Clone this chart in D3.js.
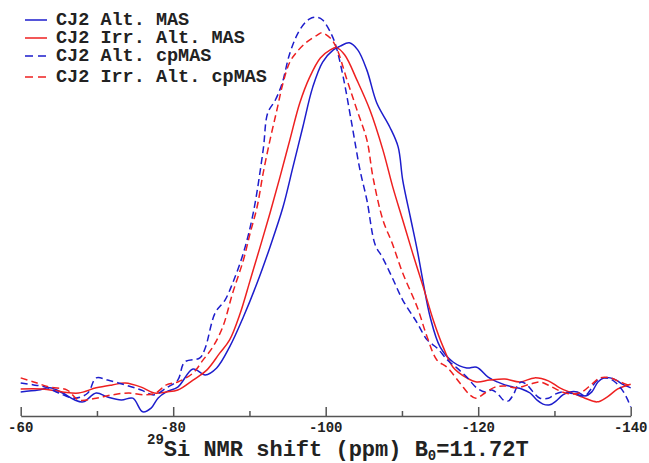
<!DOCTYPE html>
<html>
<head>
<meta charset="utf-8">
<script src="https://cdn.jsdelivr.net/npm/d3@7"></script>
<style>
  body { margin: 0; background: #fff; }
  svg text { font-family: "Courier New", "Liberation Mono", monospace; font-weight: bold; }
</style>
</head>
<body>
<div id="chart"></div>
<script>
// ppm / normalized intensity (%)
const alt_mas = [
  [-60.0,-1.6],[-62.3,-1.1],[-63.8,-0.5],[-65.5,-1.9],[-67.1,-3.8],[-68.2,-4.3],[-69.9,-1.9],
  [-71.4,-3.0],[-73.2,-3.8],[-74.7,-3.3],[-76.0,-7.0],[-77.1,-6.0],[-78.0,-3.3],[-79.1,-1.6],
  [-80.6,-0.3],[-82.6,4.6],[-84.2,3.0],[-85.7,4.9],[-87.4,10.6],[-89.2,18.7],[-91.0,27.9],
  [-92.7,37.7],[-94.4,48.5],[-95.7,59.3],[-97.0,70.2],[-98.3,81.0],[-99.6,87.8],[-101.0,91.1],
  [-101.9,92.1],[-103.1,93.0],[-104.2,91.1],[-105.4,85.6],[-106.7,76.7],[-108.4,70.2],
  [-109.5,64.8],[-110.1,55.8],[-111.1,45.8],[-112.0,36.9],[-112.8,27.9],[-113.7,18.7],
  [-115.0,10.6],[-116.7,6.5],[-118.5,4.9],[-119.8,5.1],[-121.3,2.4],[-122.5,1.1],[-123.5,0.3],
  [-124.6,-0.3],[-125.7,-0.8],[-126.8,-1.9],[-127.7,-3.8],[-128.5,-4.9],[-129.4,-5.1],
  [-130.2,-4.1],[-131.1,-2.4],[-132.0,-1.6],[-133.0,-1.6],[-134.0,-2.7],[-134.9,-1.6],
  [-135.7,1.1],[-136.5,2.2],[-137.3,2.2],[-138.1,1.6],[-138.9,0.5],[-140.0,-0.5]
]
const irr_alt_mas = [
  [-60.0,-0.8],[-62.8,-0.8],[-65.5,-1.6],[-67.6,-1.9],[-69.9,-0.5],[-72.0,0.3],[-73.7,0.8],
  [-75.8,-0.3],[-77.5,-1.9],[-79.1,-1.6],[-80.6,-1.1],[-82.6,1.6],[-84.4,4.3],[-86.1,8.9],
  [-87.4,12.5],[-88.8,19.8],[-90.1,28.7],[-91.4,37.7],[-92.7,46.9],[-94.0,56.6],[-95.3,66.7],
  [-96.6,76.7],[-97.9,83.7],[-99.3,88.9],[-100.6,91.1],[-101.4,91.7],[-102.5,89.7],
  [-104.1,82.9],[-105.8,74.8],[-107.5,64.0],[-108.8,53.9],[-110.1,45.0],[-111.4,36.0],
  [-112.8,26.8],[-114.1,17.9],[-115.4,10.6],[-116.7,5.1],[-118.5,2.2],[-119.8,1.1],
  [-121.5,1.6],[-123.5,1.9],[-125.5,1.1],[-127.4,2.2],[-129.2,1.4],[-130.7,-0.5],
  [-132.3,-1.9],[-134.0,-3.3],[-135.6,-4.3],[-136.9,-3.0],[-138.3,-0.8],[-140.0,0.5]
]
const alt_cpmas = [
  [-60.0,0.8],[-61.7,0.3],[-63.3,-0.3],[-65.0,-1.9],[-67.1,-3.3],[-68.8,-1.9],[-69.9,2.2],
  [-71.4,1.6],[-73.7,0.3],[-75.8,-1.1],[-77.5,-2.4],[-79.1,-0.5],[-80.6,1.6],[-81.5,6.5],
  [-83.5,7.6],[-84.2,10.3],[-85.5,19.8],[-86.8,23.3],[-87.8,27.9],[-89.2,36.0],[-90.5,46.9],
  [-91.8,64.0],[-92.4,74.0],[-93.4,77.5],[-94.3,82.1],[-95.3,90.2],[-96.6,96.5],[-97.9,99.5],
  [-98.9,99.9],[-99.6,99.2],[-100.8,95.1],[-101.4,91.7],[-102.3,83.7],[-103.4,71.3],
  [-104.5,58.5],[-105.4,50.4],[-106.5,38.2],[-107.4,35.0],[-108.7,29.5],[-110.1,23.3],
  [-112.0,17.1],[-113.3,12.5],[-114.6,10.3],[-116.0,7.0],[-117.2,4.9],[-118.5,2.4],
  [-119.8,-0.5],[-120.9,-1.6],[-121.8,-1.1],[-122.6,-2.2],[-123.3,-3.8],[-123.9,-4.1],
  [-124.6,-2.4],[-125.2,0.3],[-125.7,1.1],[-126.4,0.3],[-127.2,-1.6],[-128.1,-3.3],
  [-129.2,-3.3],[-130.1,-2.2],[-131.1,-1.6],[-132.0,-1.9],[-133.1,-2.4],[-134.0,-2.7],
  [-134.7,-1.1],[-135.4,1.1],[-136.2,2.2],[-137.3,1.9],[-138.1,0.8],[-138.9,-1.1],
  [-139.5,-3.3],[-140.0,-5.7]
]
const irr_alt_cpmas = [
  [-60.0,2.2],[-61.7,1.1],[-63.8,-0.3],[-66.1,-1.1],[-67.6,-3.8],[-69.9,-3.3],[-72.0,-2.4],
  [-74.2,-1.9],[-76.3,-2.4],[-77.7,-1.9],[-79.1,0.3],[-80.6,1.1],[-82.6,3.5],[-83.9,7.0],
  [-85.2,10.6],[-86.5,16.0],[-87.8,25.2],[-89.2,34.1],[-90.1,41.5],[-91.0,48.5],[-91.8,57.7],
  [-92.7,66.7],[-93.6,74.8],[-94.4,82.1],[-95.3,87.8],[-96.2,90.5],[-97.5,93.2],[-98.9,95.1],
  [-99.5,95.7],[-100.6,94.3],[-101.4,91.7],[-102.8,82.9],[-104.1,74.8],[-105.4,66.7],
  [-106.2,56.6],[-107.5,45.0],[-108.7,38.8],[-110.1,30.6],[-112.0,21.4],[-113.3,13.3],
  [-114.6,7.0],[-115.9,5.1],[-117.6,0.8],[-118.9,-2.4],[-119.7,-3.3],[-120.9,-1.9],
  [-122.2,-0.3],[-123.5,0.0],[-125.1,-0.5],[-126.8,0.5],[-128.1,1.1],[-129.4,0.0],
  [-131.0,-1.6],[-132.3,-2.2],[-133.6,-1.6],[-134.9,0.5],[-136.0,2.2],[-137.3,2.2],
  [-138.6,1.1],[-140.0,0.0]
]

const series_names = ["CJ2 Alt. MAS", "CJ2 Irr. Alt. MAS", "CJ2 Alt. cpMAS", "CJ2 Irr. Alt. cpMAS"]
const series_data = [alt_mas, irr_alt_mas, alt_cpmas, irr_alt_cpmas]
const major_ticks = [-60, -80, -100, -120, -140]
const minor_ticks = [-70, -90, -110, -130]

const width = 649, height = 463
const blue = "#1d1dcc", red = "#ee2020"
const styles = [
    {color: blue, dash: null},
    {color: red, dash: null},
    {color: blue, dash: "7,4"},
    {color: red, dash: "7,4"}
]

const svg = d3.select("#chart").append("svg")
    .attr("width", width)
    .attr("height", height)

const x = d3.scaleLinear().domain([-60, -140]).range([20.7, 630.7])
const y = d3.scaleLinear().domain([0, 100]).range([386, 17])

// axis: ticks point up from the baseline
const axis_y = 416
const axis_g = svg.append("g").attr("transform", "translate(0," + axis_y + ")")
axis_g.call(d3.axisTop(x).tickValues(major_ticks).tickSize(9).tickSizeOuter(0).tickFormat(""))
axis_g.append("g").call(d3.axisTop(x).tickValues(minor_ticks).tickSize(5).tickSizeOuter(0).tickFormat(""))
    .select(".domain").remove()
axis_g.selectAll(".domain, line").attr("stroke", "#555").attr("stroke-width", 1.5)

svg.append("g").selectAll("text")
    .data(major_ticks)
    .enter()
    .append("text")
    .attr("x", d => x(d))
    .attr("y", 432)
    .attr("text-anchor", "middle")
    .attr("font-size", 14)
    .attr("fill", "#222")
    .text(d => d)

// curves
const line = d3.line()
    .x(d => x(d[0]))
    .y(d => y(d[1]))
    .curve(d3.curveCatmullRom.alpha(0.5))

svg.append("g").selectAll("path")
    .data(series_data)
    .enter()
    .append("path")
    .attr("d", d => line(d))
    .attr("fill", "none")
    .attr("stroke", (d, i) => styles[i].color)
    .attr("stroke-width", 1.5)
    .attr("stroke-dasharray", (d, i) => styles[i].dash)

// legend
const legend_rows = [20, 38, 56, 77]
const legend = svg.append("g")
series_names.forEach((name, i) => {
    legend.append("line")
        .attr("x1", 25).attr("x2", 47)
        .attr("y1", legend_rows[i]).attr("y2", legend_rows[i])
        .attr("stroke", styles[i].color)
        .attr("stroke-width", 1.5)
        .attr("stroke-dasharray", styles[i].dash ? "8,5" : null)
    legend.append("text")
        .attr("x", 56)
        .attr("y", legend_rows[i] + 5)
        .attr("font-size", 18.5)
        .attr("fill", "#222")
        .text(name)
})

// x axis title
const title = svg.append("text")
    .attr("x", 147)
    .attr("y", 456)
    .attr("font-size", 22)
    .attr("fill", "#222")
title.append("tspan").attr("font-size", 14).attr("dy", -12).text("29")
title.append("tspan").attr("dy", 12).text("Si NMR shift (ppm) B")
title.append("tspan").attr("font-size", 14).attr("dy", 4).text("0")
title.append("tspan").attr("dy", -4).text("=11.72T")
</script>
</body>
</html>
